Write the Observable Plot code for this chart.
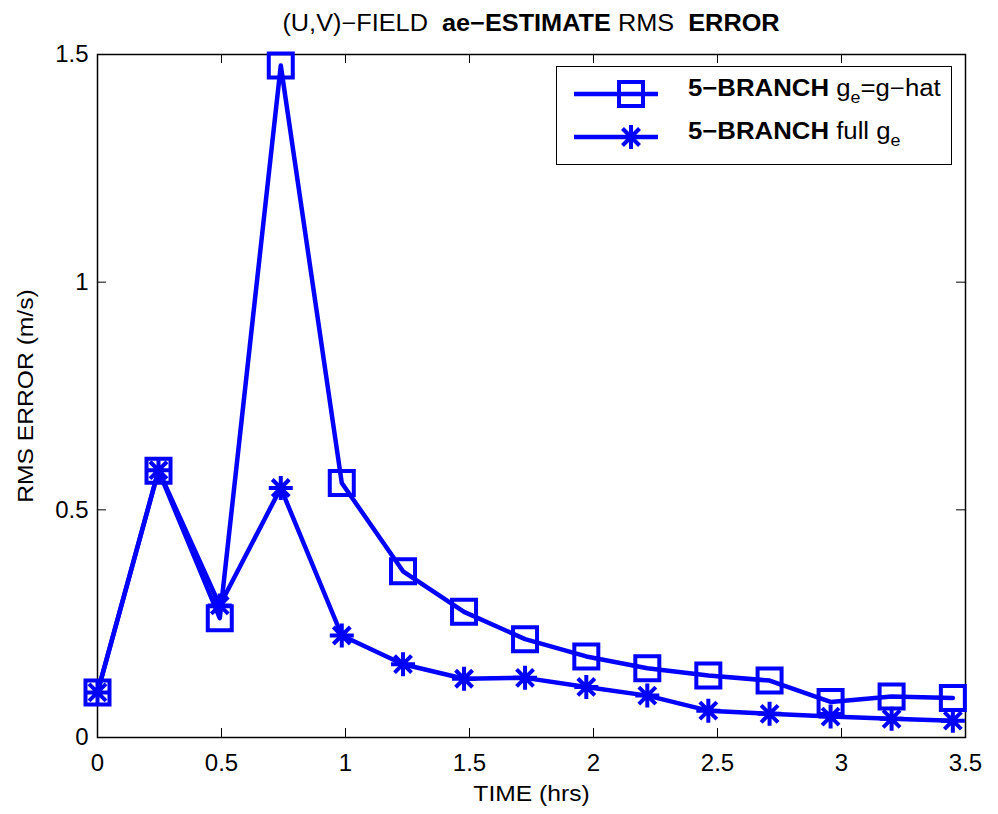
<!DOCTYPE html>
<html>
<head>
<meta charset="utf-8">
<script src="https://cdn.jsdelivr.net/npm/d3@7"></script>
<script src="https://cdn.jsdelivr.net/npm/@observablehq/plot@0.6"></script>
<style>
  html, body { margin: 0; padding: 0; background: #fff; }
  #wrap { position: relative; width: 998px; height: 814px; font-family: "Liberation Sans", Arial, Helvetica, sans-serif; color: #000; }
  #title { position: absolute; left: 0; width: 1062px; top: 8px; text-align: center; font-size: 23px; white-space: pre; line-height: 30px; }
  #title span { display: inline-block; transform: scaleX(1.1); transform-origin: center; }
  #legend { position: absolute; left: 556px; top: 66px; width: 396px; height: 99px; border: 1.5px solid #000; background: #fff; box-sizing: border-box; }
  .row { position: absolute; left: 0; height: 40px; width: 100%; }
  .row svg { position: absolute; left: 15px; top: 0; }
  .row .lab { position: absolute; left: 131px; top: 0px; font-size: 23px; white-space: pre; line-height: 28px; transform: scaleX(1.12); transform-origin: left center; }
  .row .lab sub { font-size: 16px; vertical-align: -7px; line-height: 0; }
</style>
</head>
<body>
<div id="wrap">
  <div id="title"><span>(U,V)−FIELD  <b>ae−ESTIMATE</b> RMS  <b>ERROR</b></span></div>
  <div id="legend">
    <div class="row" style="top:7px">
      <svg width="90" height="40"><line x1="2" y1="20" x2="86" y2="20" stroke="#0000ff" stroke-width="4.5"/><rect x="47" y="8" width="24" height="24" fill="none" stroke="#0000ff" stroke-width="4"/></svg>
      <div class="lab"><b>5−BRANCH</b> g<sub>e</sub>=g−hat</div>
    </div>
    <div class="row" style="top:50px">
      <svg width="90" height="40"><line x1="2" y1="20" x2="86" y2="20" stroke="#0000ff" stroke-width="4.5"/><g stroke="#0000ff" stroke-width="4"><line x1="47" y1="20" x2="71" y2="20"/><line x1="59" y1="8" x2="59" y2="32"/><line x1="50.5" y1="11.5" x2="67.5" y2="28.5"/><line x1="50.5" y1="28.5" x2="67.5" y2="11.5"/></g></svg>
      <div class="lab"><b>5−BRANCH</b> full g<sub>e</sub></div>
    </div>
  </div>
</div>
<script>
// Data
const timeHrs = [0, 0.246, 0.493, 0.739, 0.985, 1.232, 1.478, 1.724, 1.971, 2.217, 2.463, 2.71, 2.956, 3.202, 3.449];
const gHatErr = [0.099, 0.586, 0.262, 1.476, 0.559, 0.365, 0.276, 0.216, 0.178, 0.152, 0.136, 0.125, 0.078, 0.090, 0.087];
const fullGeErr = [0.099, 0.587, 0.290, 0.548, 0.224, 0.161, 0.129, 0.131, 0.111, 0.092, 0.059, 0.052, 0.046, 0.041, 0.037];
const xTicks = [0, 0.5, 1, 1.5, 2, 2.5, 3, 3.5];
const xTickLabels = ["0", "0.5", "1", "1.5", "2", "2.5", "3", "3.5"];
const yTicks = [0, 0.5, 1, 1.5];
const yTickLabels = ["0", "0.5", "1", "1.5"];
const xLabel = "TIME (hrs)";
const yLabel = "RMS ERROR (m/s)";

const sq = timeHrs.map((t, i) => ({t, v: gHatErr[i]}));
const st = timeHrs.map((t, i) => ({t, v: fullGeErr[i]}));

const squareSym = {draw(ctx, size) { const r = Math.sqrt(size / Math.PI); ctx.moveTo(-r, -r); ctx.lineTo(r, -r); ctx.lineTo(r, r); ctx.lineTo(-r, r); ctx.closePath(); }};
const starSym = {draw(ctx, size) { const r = Math.sqrt(size / Math.PI); const d = r * 0.7071;
  ctx.moveTo(-r, 0); ctx.lineTo(r, 0); ctx.moveTo(0, -r); ctx.lineTo(0, r);
  ctx.moveTo(-d, -d); ctx.lineTo(d, d); ctx.moveTo(-d, d); ctx.lineTo(d, -d); }};

const W = 998, H = 814, ML = 97, MR = 33, MT = 54, MB = 77;
const innerW = W - ML - MR, innerH = H - MT - MB, TL = 9;
const blue = "#0000ff";

const chart = Plot.plot({
  width: W, height: H,
  marginLeft: ML, marginRight: MR, marginTop: MT, marginBottom: MB,
  style: {fontFamily: '"Liberation Sans", Arial, Helvetica, sans-serif', fontSize: "24px", color: "#000", background: "transparent"},
  x: {domain: [0, 3.5]},
  y: {domain: [0, 1.5]},
  marks: [
    Plot.axisX(xTicks, {anchor: "bottom", tickSize: 0, tickPadding: 16, tickFormat: (d, i) => xTickLabels[i], label: null, fontSize: 24}),
    Plot.axisY(yTicks, {anchor: "left", tickSize: 0, tickPadding: 9, tickFormat: (d, i) => yTickLabels[i], label: null, fontSize: 24}),
    Plot.tickX(xTicks, {x: d => d, insetTop: innerH - TL, stroke: "#000", strokeWidth: 1}),
    Plot.tickX(xTicks, {x: d => d, insetBottom: innerH - TL, stroke: "#000", strokeWidth: 1}),
    Plot.tickY(yTicks, {y: d => d, insetRight: innerW - TL, stroke: "#000", strokeWidth: 1}),
    Plot.tickY(yTicks, {y: d => d, insetLeft: innerW - TL, stroke: "#000", strokeWidth: 1}),
    Plot.frame({stroke: "#000", strokeWidth: 1.5}),
    Plot.line(sq, {x: "t", y: "v", stroke: blue, strokeWidth: 4.5, strokeLinejoin: "round"}),
    Plot.dot(sq, {x: "t", y: "v", symbol: squareSym, r: 12, stroke: blue, strokeWidth: 4, fill: "none"}),
    Plot.line(st, {x: "t", y: "v", stroke: blue, strokeWidth: 4.5, strokeLinejoin: "round"}),
    Plot.dot(st, {x: "t", y: "v", symbol: starSym, r: 12, stroke: blue, strokeWidth: 4, fill: "none"}),
    Plot.text([xLabel], {frameAnchor: "bottom", textAnchor: "middle", lineAnchor: "middle", dy: 56, fontSize: 22, text: d => d, className: "xlab"}),
    Plot.text([yLabel], {frameAnchor: "left", textAnchor: "middle", lineAnchor: "middle", dx: -72, rotate: -90, fontSize: 22, text: d => d, className: "ylab"})
  ]
});
// horizontal stretch of the axis-title glyphs to match the reference typography
d3.select(chart).selectAll(".xlab text, .ylab text").each(function() {
  const t = this.getAttribute("transform") || "";
  this.setAttribute("transform", t + " scale(1.12,1)");
});
document.getElementById("wrap").prepend(chart);
chart.style.position = "absolute";
chart.style.left = "0";
chart.style.top = "0";
</script>
</body>
</html>
